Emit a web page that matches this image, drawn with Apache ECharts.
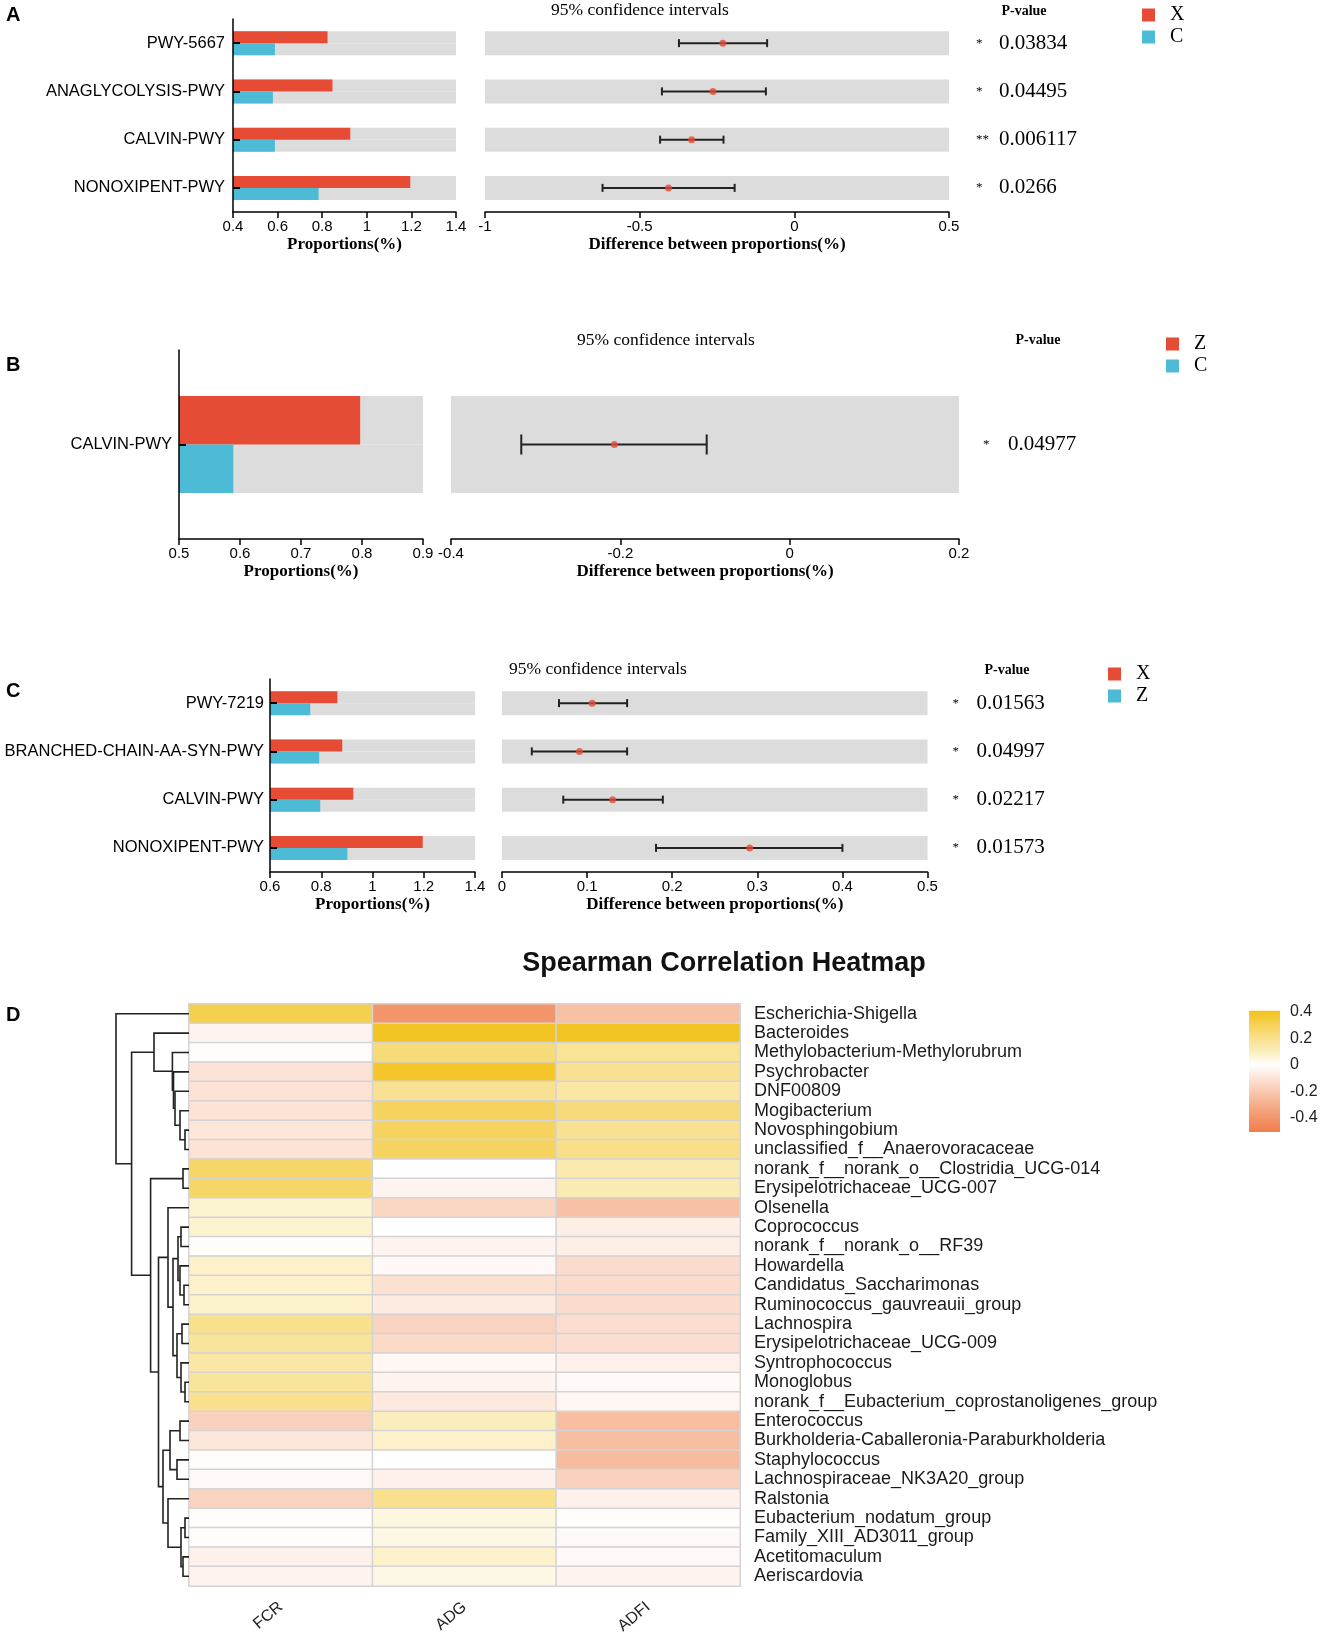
<!DOCTYPE html>
<html><head><meta charset="utf-8">
<script src="https://cdn.jsdelivr.net/npm/echarts@6.0.0/dist/echarts.min.js"></script>
<style>html,body{margin:0;padding:0;background:#fff}#c{width:1325px;height:1639px}</style>
</head><body><div id="c"></div>
<script>
const SANS = '"Liberation Sans", Arial, sans-serif';
const SERIF = '"Liberation Serif", "Times New Roman", serif';
const RED = '#E64B35', BLUE = '#4DBBD5', GRAY = '#DCDCDC';

// ---------- Panel A (X vs C) ----------
const pathwaysA = ['PWY-5667', 'ANAGLYCOLYSIS-PWY', 'CALVIN-PWY', 'NONOXIPENT-PWY'];
const propXA = [0.824, 0.846, 0.926, 1.195];
const propCA = [0.588, 0.579, 0.588, 0.784];
const diffA = [-0.231, -0.263, -0.332, -0.407];
const ciLowA = [-0.373, -0.428, -0.434, -0.620];
const ciHighA = [-0.088, -0.092, -0.229, -0.193];
const pValuesA = ['0.03834', '0.04495', '0.006117', '0.0266'];

// ---------- Panel B (Z vs C) ----------
const pathwaysB = ['CALVIN-PWY'];
const propZB = [0.797];
const propCB = [0.589];
const diffB = [-0.207];
const ciLowB = [-0.317];
const ciHighB = [-0.098];
const pValuesB = ['0.04977'];

// ---------- Panel C (X vs Z) ----------
const pathwaysC = ['PWY-7219', 'BRANCHED-CHAIN-AA-SYN-PWY', 'CALVIN-PWY', 'NONOXIPENT-PWY'];
const propXC = [0.863, 0.882, 0.925, 1.196];
const propZC = [0.757, 0.792, 0.796, 0.902];
const diffC = [0.106, 0.091, 0.130, 0.291];
const ciLowC = [0.067, 0.035, 0.072, 0.181];
const ciHighC = [0.147, 0.147, 0.189, 0.400];
const pValuesC = ['0.01563', '0.04997', '0.02217', '0.01573'];

// ---------- Panel D (Spearman heatmap) ----------
const traits = ['FCR', 'ADG', 'ADFI'];
const taxa = ['Escherichia-Shigella', 'Bacteroides', 'Methylobacterium-Methylorubrum', 'Psychrobacter',
  'DNF00809', 'Mogibacterium', 'Novosphingobium', 'unclassified_f__Anaerovoracaceae',
  'norank_f__norank_o__Clostridia_UCG-014', 'Erysipelotrichaceae_UCG-007', 'Olsenella', 'Coprococcus',
  'norank_f__norank_o__RF39', 'Howardella', 'Candidatus_Saccharimonas', 'Ruminococcus_gauvreauii_group',
  'Lachnospira', 'Erysipelotrichaceae_UCG-009', 'Syntrophococcus', 'Monoglobus',
  'norank_f__Eubacterium_coprostanoligenes_group', 'Enterococcus', 'Burkholderia-Caballeronia-Paraburkholderia',
  'Staphylococcus', 'Lachnospiraceae_NK3A20_group', 'Ralstonia', 'Eubacterium_nodatum_group',
  'Family_XIII_AD3011_group', 'Acetitomaculum', 'Aeriscardovia'];
const corrFCR = [0.32, -0.04, -0.01, -0.10, -0.10, -0.10, -0.09, -0.10, 0.27, 0.27, 0.07, 0.07, 0.01, 0.08, 0.08,
  0.08, 0.20, 0.17, 0.15, 0.17, 0.20, -0.17, -0.09, -0.01, -0.02, -0.16, -0.01, -0.01, -0.05, -0.04];
const corrADG = [-0.40, 0.39, 0.24, 0.38, 0.19, 0.29, 0.29, 0.29, 0.00, -0.04, -0.15, 0.00, -0.04, -0.02, -0.11,
  -0.07, -0.16, -0.14, -0.03, -0.04, -0.08, 0.10, 0.08, 0.00, -0.05, 0.20, 0.05, 0.04, 0.08, 0.04];
const corrADFI = [-0.23, 0.39, 0.18, 0.19, 0.15, 0.24, 0.19, 0.21, 0.13, 0.12, -0.23, -0.06, -0.06, -0.13, -0.13,
  -0.13, -0.12, -0.12, -0.05, -0.02, -0.03, -0.24, -0.24, -0.25, -0.17, -0.05, -0.01, -0.02, -0.02, -0.04];
// row dendrogram: [height, left, right]; leaves are row indices
const dendrogram = [73, 0,
  [57.4,
    [35, 1, [16.6, 2, [15.5, 3, [14, 4, [9, 5, [4, 6, 7]]]]]],
    [38.4,
      [6, 8, 9],
      [30.5,
        [21, 10, [16, [11, [8, 11, 12], [9, 13, [5, 14, 15]]], [12, [7, 16, 17], [8, 18, [4, 19, 20]]]]],
        [26, [19, [9, 21, 22], [12, 23, 24]], [21, 25, [8, [4, 26, 27], [6, 28, 29]]]]
      ]
    ]
  ]
];
const colorStops = [-0.5, -0.4, -0.3, -0.2, -0.1, 0, 0.1, 0.2, 0.3, 0.4];
const colorScale = ['#EF7F4D', '#F2956A', '#F5AE8C', '#F9C9B1', '#FCE3D6', '#FFFFFF', '#FBEEBE', '#F8E08D', '#F6D25A', '#F3C31E'];

// ---------- option ----------
const option = { animation: false, backgroundColor: '#fff', grid: [], xAxis: [], yAxis: [], series: [], legend: [], title: [], graphic: [] };

function stars(p) { const v = parseFloat(p); return v < 0.001 ? '***' : v < 0.01 ? '**' : v < 0.05 ? '*' : ''; }

function addPanel(P) {
  const gi = option.grid.length;
  option.grid.push({ left: P.gl[0], width: P.gl[1], top: P.top, height: P.h });
  option.grid.push({ left: P.gr[0], width: P.gr[1], top: P.top, height: P.h });
  const tickLabel = { color: '#000', fontFamily: SANS, fontSize: 15, margin: 7 };
  const nameStyle = { color: '#000', fontFamily: SERIF, fontSize: 17, fontWeight: 'bold' };
  const axLine = { show: true, onZero: false, lineStyle: { color: '#000', width: 1.5 } };
  const axTick = { show: true, length: 6, lineStyle: { color: '#000', width: 1.5 } };
  option.xAxis.push({ type: 'value', gridIndex: gi, min: P.lx[0], max: P.lx[1], interval: P.lx[2],
    axisLine: axLine, axisTick: axTick, splitLine: { show: false }, axisLabel: tickLabel,
    name: 'Proportions(%)', nameLocation: 'middle', nameGap: 24, nameTextStyle: nameStyle });
  option.xAxis.push({ type: 'value', gridIndex: gi + 1, min: P.rx[0], max: P.rx[1], interval: P.rx[2],
    axisLine: axLine, axisTick: axTick, splitLine: { show: false }, axisLabel: tickLabel,
    name: 'Difference between proportions(%)', nameLocation: 'middle', nameGap: 24, nameTextStyle: nameStyle });
  option.yAxis.push({ type: 'category', gridIndex: gi, data: P.cats, inverse: true, z: 5,
    axisLine: axLine,
    axisTick: { show: true, inside: true, alignWithLabel: true, length: 7, lineStyle: { color: '#000', width: 2 } },
    axisLabel: { color: '#000', fontFamily: SANS, fontSize: 16.5, margin: P.lm, interval: 0 } });
  option.yAxis.push({ type: 'category', gridIndex: gi + 1, data: P.cats, inverse: true, position: 'right',
    axisLine: { show: false, onZero: false }, axisTick: { show: false },
    axisLabel: { interval: 0, margin: P.pm,
      formatter: (v, i) => '{s|' + stars(P.p[i]) + '}{v|' + P.p[i] + '}',
      rich: { s: { width: P.sw, fontSize: 13, fontFamily: SERIF, color: '#000' },
              v: { fontSize: 21, fontFamily: SERIF, color: '#000' } } } });
  const mk = (name, vals, color) => ({ type: 'bar', name: name, xAxisIndex: gi, yAxisIndex: gi, data: vals,
    barWidth: P.bw, barGap: '0%', itemStyle: { color: color }, showBackground: true,
    backgroundStyle: { color: GRAY } });
  option.series.push(mk(P.id + '-' + P.g1, P.v1, RED), mk(P.id + '-' + P.g2, P.v2, BLUE));
  option.series.push({ type: 'bar', xAxisIndex: gi + 1, yAxisIndex: gi + 1, data: P.cats.map(() => 0),
    barWidth: P.bw * 2, itemStyle: { color: 'rgba(0,0,0,0)' }, showBackground: true,
    backgroundStyle: { color: GRAY }, silent: true });
  const cap = P.cap;
  option.series.push({ type: 'custom', xAxisIndex: gi + 1, yAxisIndex: gi + 1, z: 3,
    data: P.lo.map((v, i) => [v, P.hi[i], i]), encode: { x: [0, 1], y: 2 },
    renderItem: (params, api) => {
      const a = api.coord([api.value(0), api.value(2)]);
      const b = api.coord([api.value(1), api.value(2)]);
      const st = { stroke: '#222', lineWidth: 2 };
      return { type: 'group', children: [
        { type: 'line', shape: { x1: a[0], y1: a[1], x2: b[0], y2: b[1] }, style: st },
        { type: 'line', shape: { x1: a[0], y1: a[1] - cap, x2: a[0], y2: a[1] + cap }, style: st },
        { type: 'line', shape: { x1: b[0], y1: b[1] - cap, x2: b[0], y2: b[1] + cap }, style: st }
      ] };
    } });
  option.series.push({ type: 'scatter', xAxisIndex: gi + 1, yAxisIndex: gi + 1, z: 4,
    data: P.d.map((v, i) => [v, i]), symbolSize: 7, itemStyle: { color: RED } });
  option.legend.push({ data: [P.id + '-' + P.g1, P.id + '-' + P.g2], formatter: n => n.split('-')[1],
    orient: 'vertical', left: P.lg[0], top: P.lg[1], icon: 'rect', itemWidth: 13, itemHeight: 13, itemGap: 2,
    selectedMode: false, padding: 0,
    textStyle: { fontFamily: SERIF, fontSize: 20, color: '#000', lineHeight: 19, padding: [0, 0, 0, 10] } });
  option.graphic.push(
    { type: 'text', x: P.hd[0], y: P.hd[1], style: { text: '95% confidence intervals', fontFamily: SERIF, fontSize: 17.5, fill: '#000', align: 'center', verticalAlign: 'middle' } },
    { type: 'text', x: P.pv[0], y: P.pv[1], style: { text: 'P-value', fontFamily: SERIF, fontSize: 14, fontWeight: 'bold', fill: '#000', align: 'center', verticalAlign: 'middle' } }
  );
}

addPanel({ id: 'A', g1: 'X', g2: 'C', cats: pathwaysA, v1: propXA, v2: propCA, d: diffA, lo: ciLowA, hi: ciHighA, p: pValuesA,
  gl: [233, 223], gr: [485, 464], top: 19, h: 193, lx: [0.4, 1.4, 0.2], rx: [-1, 0.5, 0.5], bw: 12, cap: 4,
  lm: 8, pm: 27, sw: 23, lg: [1142, 5], hd: [640, 10], pv: [1024, 11] });
addPanel({ id: 'B', g1: 'Z', g2: 'C', cats: pathwaysB, v1: propZB, v2: propCB, d: diffB, lo: ciLowB, hi: ciHighB, p: pValuesB,
  gl: [179, 244], gr: [451, 508], top: 350, h: 189, lx: [0.5, 0.9, 0.1], rx: [-0.4, 0.2, 0.2], bw: 48.5, cap: 10,
  lm: 7, pm: 24, sw: 25, lg: [1166, 334], hd: [666, 340], pv: [1038, 340] });
addPanel({ id: 'C', g1: 'X', g2: 'Z', cats: pathwaysC, v1: propXC, v2: propZC, d: diffC, lo: ciLowC, hi: ciHighC, p: pValuesC,
  gl: [270, 205], gr: [502, 425.5], top: 679, h: 193, lx: [0.6, 1.4, 0.2], rx: [0, 0.5, 0.1], bw: 12, cap: 4,
  lm: 6, pm: 25, sw: 24, lg: [1108, 664], hd: [598, 669], pv: [1007, 670] });

// panel letters
const letterStyle = { fontFamily: SANS, fontSize: 20, fontWeight: 'bold', color: '#000' };
[['A', 5], ['B', 355], ['C', 681], ['D', 1005]].forEach(([t, y]) =>
  option.title.push({ text: t, left: 6, top: y, padding: 0, textStyle: letterStyle }));

// heatmap
const hg = option.grid.length;
option.grid.push({ left: 189, top: 1004, width: 551, height: 582 });
option.xAxis.push({ type: 'category', gridIndex: hg, data: traits, axisLine: { show: false }, axisTick: { show: false },
  splitLine: { show: false }, axisLabel: { rotate: 40, margin: 19, fontFamily: SANS, fontSize: 16, color: '#222', interval: 0 } });
option.yAxis.push({ type: 'category', gridIndex: hg, data: taxa, inverse: true, position: 'right',
  axisLine: { show: false }, axisTick: { show: false },
  axisLabel: { interval: 0, margin: 14, fontFamily: SANS, fontSize: 18, color: '#1a1a1a' } });
const heatData = [];
taxa.forEach((t, i) => { heatData.push([0, i, corrFCR[i]], [1, i, corrADG[i]], [2, i, corrADFI[i]]); });
const heatIdx = option.series.length;
option.series.push({ type: 'heatmap', xAxisIndex: hg, yAxisIndex: hg, data: heatData,
  itemStyle: { borderColor: '#D4D4D4', borderWidth: 1.5 } });
option.visualMap = [{ type: 'continuous', show: false, seriesIndex: heatIdx, dimension: 2,
  min: colorStops[0], max: colorStops[colorStops.length - 1], inRange: { color: colorScale } }];

// dendrogram
const dg = option.grid.length;
option.grid.push({ left: 116, top: 1004, width: 73, height: 582 });
option.xAxis.push({ type: 'value', gridIndex: dg, min: 0, max: 73, inverse: true, show: false });
option.yAxis.push({ type: 'value', gridIndex: dg, min: -0.5, max: taxa.length - 0.5, inverse: true, show: false });
const links = [];
function walk(n) {
  if (typeof n === 'number') return { y: n, h: 0 };
  const a = walk(n[1]), b = walk(n[2]);
  links.push([n[0], a.y, b.y, a.h, b.h]);
  return { y: (a.y + b.y) / 2, h: n[0] };
}
walk(dendrogram);
option.series.push({ type: 'custom', xAxisIndex: dg, yAxisIndex: dg, data: links, encode: { x: [0, 3, 4], y: [1, 2] },
  renderItem: (params, api) => {
    const h = api.value(0), ya = api.value(1), yb = api.value(2), ha = api.value(3), hb = api.value(4);
    const pts = [api.coord([ha, ya]), api.coord([h, ya]), api.coord([h, yb]), api.coord([hb, yb])];
    return { type: 'polyline', shape: { points: pts }, style: { stroke: '#222', lineWidth: 1.6, fill: null } };
  } });

// colour bar
const cg = option.grid.length;
option.grid.push({ left: 1249, top: 1012, width: 31, height: 106 });
option.xAxis.push({ type: 'value', gridIndex: cg, min: 0, max: 1, show: false });
option.yAxis.push({ type: 'value', gridIndex: cg, min: -0.4, max: 0.4, interval: 0.2, position: 'right',
  axisLine: { show: false, onZero: false }, axisTick: { show: false }, splitLine: { show: false },
  axisLabel: { margin: 10, fontFamily: SANS, fontSize: 16, color: '#222' } });
const barTop = 0.41, barBottom = -0.505;
option.series.push({ type: 'custom', xAxisIndex: cg, yAxisIndex: cg, data: [[0, barTop]],
  renderItem: (params, api) => {
    const p0 = api.coord([0, barTop]), p1 = api.coord([1, barBottom]);
    const stops = colorStops.map((v, i) => ({ offset: Math.min(1, Math.max(0, (barTop - v) / (barTop - barBottom))), color: colorScale[i] }))
      .concat([{ offset: 0, color: colorScale[colorScale.length - 1] }]).sort((a, b) => a.offset - b.offset);
    return { type: 'rect', shape: { x: p0[0], y: p0[1], width: p1[0] - p0[0], height: p1[1] - p0[1] },
      style: { fill: new echarts.graphic.LinearGradient(0, 0, 0, 1, stops) } };
  } });

option.graphic.push({ type: 'text', x: 724, y: 964, style: { text: 'Spearman Correlation Heatmap', fontFamily: SANS,
  fontSize: 27, fontWeight: 'bold', fill: '#111', align: 'center', verticalAlign: 'middle' } });

const chart = echarts.init(document.getElementById('c'));
chart.setOption(option);
</script></body></html>
